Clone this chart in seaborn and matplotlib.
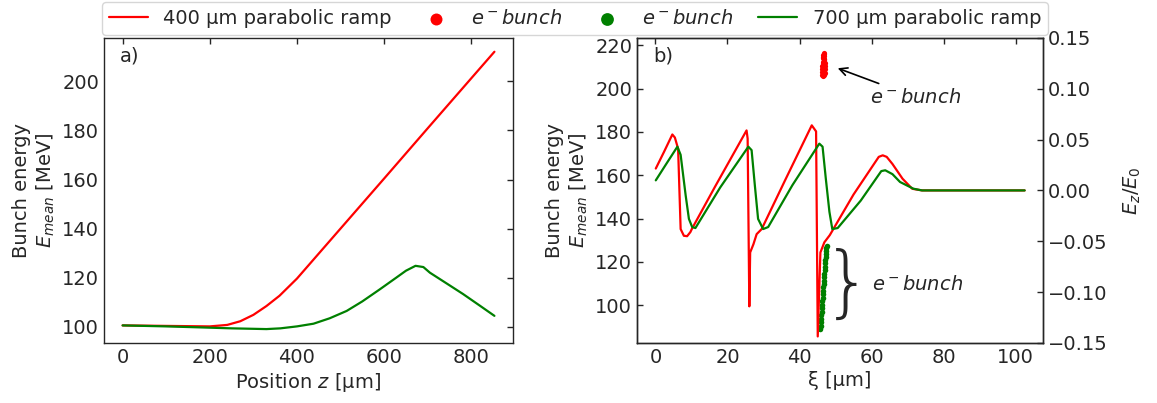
import numpy as np
import pandas as pd
import matplotlib
matplotlib.use("Agg")
import matplotlib.pyplot as plt
import seaborn as sns
from matplotlib import font_manager

# ---------------- data ----------------
# panel a: mean bunch energy vs position
z_pos = [0, 50, 100, 150, 200, 240, 270, 300, 330, 360, 400, 450, 500, 600, 700, 800, 853]
E_400 = [100.5, 100.4, 100.3, 100.2, 100.1, 100.7, 102.2, 104.8, 108.4, 112.6, 119.6, 129.8, 140.0, 160.4, 180.9,
         201.3, 212.1]

z_pos7 = [0, 50, 100, 177, 250, 330, 362, 400, 438, 475, 514, 550, 590, 628, 650, 672, 690, 705, 740, 781, 820, 853]
E_700 = [100.5, 100.3, 100.1, 99.7, 99.3, 99.0, 99.3, 100.1, 101.2, 103.4, 106.4, 110.3, 115.2, 120.0, 122.8, 124.8,
         124.3, 122.0, 118.0, 113.3, 108.5, 104.4]

# panel b: on-axis field E_z/E_0 vs xi
xi_400 = [0.1, 2.4, 4.7, 5.4, 6.3, 7.0, 7.9, 8.8, 9.7, 10.1, 16.6, 25.3, 25.6, 26.07, 26.3, 27.2, 28.1, 29.5,
          36.0, 43.4, 44.6, 45.06, 45.8, 46.9, 48.4, 55.0, 62.0, 63.1, 64.2, 65.8, 68.6, 71.3, 74.0, 102.5]
ez_400 = [0.0215, 0.038, 0.055, 0.052, 0.041, -0.038, -0.0446, -0.045, -0.041, -0.038, 0.004, 0.059, 0.051, -0.114,
          -0.061, -0.053, -0.043, -0.038, 0.010, 0.064, 0.058, -0.1436, -0.061, -0.051, -0.044, -0.004, 0.033,
          0.0345, 0.033, 0.026, 0.0115, 0.0016, 0.0, 0.0]

xi_700 = [0.1, 3.0, 6.1, 7.0, 8.4, 9.3, 10.2, 11.1, 18.0, 25.8, 26.7, 27.6, 28.5, 29.9, 31.3, 38.0, 45.5, 46.4, 47.3,
          48.3, 49.1, 50.6, 57.0, 62.7, 63.8, 65.8, 67.9, 71.6, 74.0, 102.5]
ez_700 = [0.0099, 0.026, 0.043, 0.035, -0.005, -0.028, -0.036, -0.037, 0.003, 0.043, 0.0396, 0.005, -0.028, -0.038,
          -0.036, 0.005, 0.046, 0.043, 0.0116, -0.021, -0.038, -0.037, -0.010, 0.019, 0.0198, 0.016, 0.0083, 0.0017,
          0.0, 0.0]

# electron bunches (energy in MeV vs xi)
bunch400_xi = [46.7, 46.65, 46.75, 46.55, 46.7, 46.85, 46.45, 46.6, 46.8, 46.95, 46.3, 46.5, 46.7, 46.9, 47.1,
               46.2, 46.4, 46.65, 46.9, 47.15, 46.2, 46.45, 46.75, 47.05, 46.35, 46.6, 46.9, 46.72, 46.62, 46.8]
bunch400_E = [216.5, 215.5, 215.0, 214.0, 213.8, 213.5, 212.0, 212.2, 212.0, 212.0, 210.5, 210.6, 210.5, 210.6, 210.5,
              209.0, 209.0, 209.0, 209.0, 209.0, 207.5, 207.5, 207.5, 207.3, 206.3, 206.0, 206.3, 216.0, 214.5, 213.0]

bunch700_xi = [45.8, 45.87, 45.94, 46.01, 46.08, 46.15, 46.22, 46.29, 46.36, 46.43, 46.5, 46.57, 46.64, 46.71, 46.78,
               46.85, 46.92, 46.99, 47.06, 47.13, 47.2, 47.27, 47.34, 47.41, 47.48, 47.55]
bunch700_E = [89.0, 90.6, 92.2, 93.8, 95.4, 97.0, 98.6, 100.2, 101.8, 103.4, 105.0, 106.6, 108.2, 109.8, 111.4,
              113.0, 114.6, 116.2, 117.8, 119.4, 121.0, 122.4, 123.8, 125.0, 126.2, 127.3]

label_400 = "400 \u03bcm parabolic ramp"
label_700 = "700 \u03bcm parabolic ramp"
label_bunch = r"$e^-bunch$"

# ---------------- style ----------------
sns.set_style("white")
plt.rcParams['font.family'] = ['DejaVu Sans']
plt.rcParams['font.size'] = 14
plt.rcParams['mathtext.fontset'] = 'dejavusans'

# a thin font for the brace, if available
brace_font = None
for fam, wt in [("DejaVu Sans", 200), ("Open Sans", 300), ("Lato", 300), ("Roboto", 300), ("Noto Sans", 300)]:
    try:
        fp = font_manager.FontProperties(family=fam, weight=wt)
        path = font_manager.findfont(fp, fallback_to_default=False)
        f = font_manager.get_font(path)
        if 'light' in path.lower() or 'thin' in path.lower():
            brace_font = font_manager.FontProperties(fname=path)
            break
    except Exception:
        pass

fig = plt.figure(figsize=(11.57, 4.03), dpi=100)
axa = fig.add_axes([0.0899, 0.149, 0.3535, 0.757])
axb = fig.add_axes([0.5506, 0.149, 0.3509, 0.757])

red = 'red'
green = 'green'

# ---- panel a ----
sns.lineplot(x=z_pos, y=E_400, ax=axa, color=red, linewidth=1.6, sort=False)
sns.lineplot(x=z_pos7, y=E_700, ax=axa, color=green, linewidth=1.6, sort=False)
axa.set_xticks([0, 200, 400, 600, 800])
axa.set_yticks([100, 120, 140, 160, 180, 200])
axa.set_xlabel("Position $z$ [\u03bcm]", fontsize=14, labelpad=3)
axa.set_ylabel("Bunch energy\n$E_{mean}$ [MeV]", fontsize=14, labelpad=4)
axa.tick_params(direction='in', top=True, right=True, length=4, labelsize=14, width=1, color='.15')
axa.text(0.04, 0.94, "a)", transform=axa.transAxes, fontsize=14, ha='left', va='center')

# ---- panel b ----
ax2 = axb.twinx()
sc400 = axb.scatter(bunch400_xi, bunch400_E, s=14, color=red, linewidths=0, label=label_bunch)
sc700 = axb.scatter(bunch700_xi, bunch700_E, s=16, color=green, linewidths=0, label=label_bunch)
sns.lineplot(x=xi_400, y=ez_400, ax=ax2, color=red, linewidth=1.6, sort=False)
sns.lineplot(x=xi_700, y=ez_700, ax=ax2, color=green, linewidth=1.6, sort=False)
l400 = ax2.lines[0]
l700 = ax2.lines[1]

axb.set_xlim(-5.1, 107.6)
axb.set_ylim(82.6, 223.4)
ax2.set_ylim(-0.15, 0.15)
axb.set_xticks([0, 20, 40, 60, 80, 100])
axb.set_yticks([100, 120, 140, 160, 180, 200, 220])
ax2.set_yticks([-0.15, -0.10, -0.05, 0.0, 0.05, 0.10, 0.15])
ax2.set_yticklabels(["\u22120.15", "\u22120.10", "\u22120.05", "0.00", "0.05", "0.10", "0.15"])
axb.set_xlabel("\u03be [\u03bcm]", fontsize=14, labelpad=3)
axb.set_ylabel("Bunch energy\n$E_{mean}$ [MeV]", fontsize=14, labelpad=4)
ax2.set_ylabel("$E_z/E_0$", fontsize=14, labelpad=10)
axb.tick_params(direction='in', top=True, right=False, length=4, labelsize=14, width=1, color='.15')
ax2.tick_params(direction='in', length=4, labelsize=14, width=1, color='.15')
axb.text(0.04, 0.94, "b)", transform=axb.transAxes, fontsize=14, ha='left', va='center')

axb.annotate(label_bunch, xy=(50.6, 209.4), xytext=(59.6, 196.0), fontsize=14,
             ha='left', va='center',
             arrowprops=dict(arrowstyle='->', color='black', lw=1.2, shrinkA=2, shrinkB=0))
if brace_font is not None:
    bt = axb.text(53.4, 109.0, "}", ha='center', va='center', fontproperties=brace_font)
    bt.set_fontsize(56)
else:
    axb.text(53.4, 109.0, "}", fontsize=54, ha='center', va='center')
axb.text(60.2, 109.7, label_bunch, fontsize=14, ha='left', va='center')

for ax in (axa, axb, ax2):
    for sp in ax.spines.values():
        sp.set_color('.15')
        sp.set_linewidth(1.0)

fig.legend(handles=[l400, sc400, sc700, l700],
           labels=[label_400, label_bunch, label_bunch, label_700],
           loc='upper center', bbox_to_anchor=(0.497, 1.0), ncol=4, fontsize=14,
           markerscale=2.3, frameon=True, handlelength=2.0, columnspacing=1.3,
           borderpad=0.35, handletextpad=0.8, borderaxespad=0.1)

fig.savefig("out.png", dpi=100)
